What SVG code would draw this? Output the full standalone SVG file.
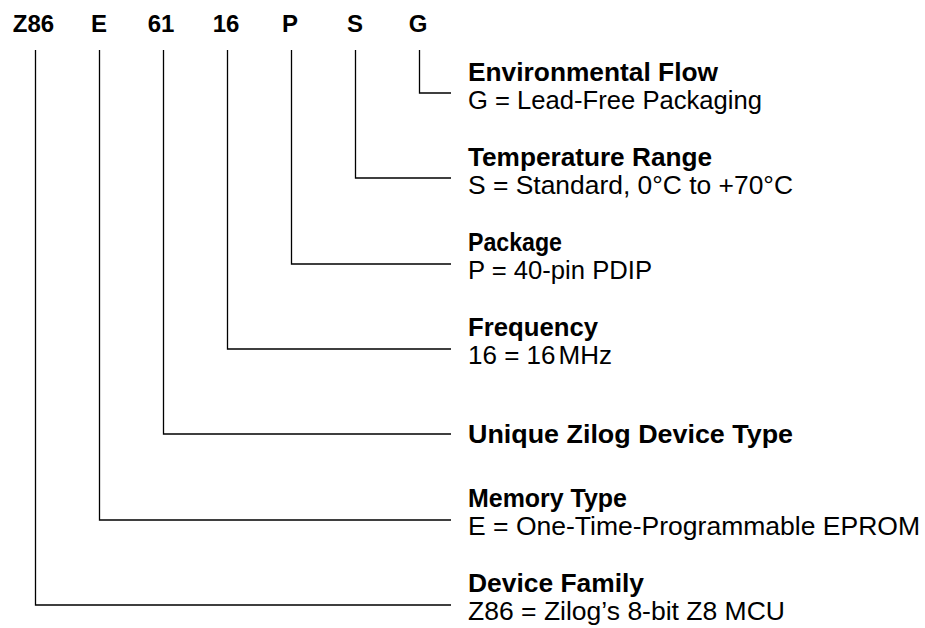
<svg xmlns="http://www.w3.org/2000/svg" width="925" height="628" viewBox="0 0 925 628">
<style>
.hd{font-family:"Liberation Sans",Arial,sans-serif;font-weight:bold;font-size:24px;fill:#000;text-anchor:middle}
.t{font-family:"Liberation Sans",Arial,sans-serif;font-weight:bold;font-size:25px;fill:#000}
.s{font-family:"Liberation Sans",Arial,sans-serif;font-size:25px;fill:#000}
.c{fill:none;stroke:#000;stroke-width:1.3}
</style>
<rect width="925" height="628" fill="#fff"/>
<g id="header">
<text class="hd" x="33.5" y="31.5">Z86</text>
<text class="hd" x="99" y="31.5">E</text>
<text class="hd" x="161" y="31.5">61</text>
<text class="hd" x="226" y="31.5">16</text>
<text class="hd" x="290" y="31.5">P</text>
<text class="hd" x="355" y="31.5">S</text>
<text class="hd" x="418" y="31.5">G</text>
</g>
<g id="connectors">
<polyline class="c" points="419.5,50 419.5,93 451,93"/>
<polyline class="c" points="355.5,50 355.5,178 451,178"/>
<polyline class="c" points="291.5,50 291.5,264 451,264"/>
<polyline class="c" points="227.5,50 227.5,349 451,349"/>
<polyline class="c" points="163.5,50 163.5,434 451,434"/>
<polyline class="c" points="99.5,50 99.5,520 451,520"/>
<polyline class="c" points="35.5,50 35.5,605 451,605"/>
</g>
<g id="env">
<text class="t" x="468" y="81" textLength="250" lengthAdjust="spacingAndGlyphs">Environmental Flow</text>
<text class="s" x="468" y="109" textLength="294" lengthAdjust="spacingAndGlyphs">G = Lead-Free Packaging</text>
</g>
<g id="temp">
<text class="t" x="468" y="166" textLength="244" lengthAdjust="spacingAndGlyphs">Temperature Range</text>
<text class="s" x="468" y="194" textLength="325" lengthAdjust="spacingAndGlyphs">S = Standard, 0°C to +70°C</text>
</g>
<g id="pkg">
<text class="t" x="468" y="251" textLength="94" lengthAdjust="spacingAndGlyphs">Package</text>
<text class="s" x="468" y="279" textLength="184" lengthAdjust="spacingAndGlyphs">P = 40-pin PDIP</text>
</g>
<g id="freq">
<text class="t" x="468" y="336" textLength="130" lengthAdjust="spacingAndGlyphs">Frequency</text>
<text class="s" x="468" y="364" textLength="144" lengthAdjust="spacingAndGlyphs">16 = 16<tspan dx="3">MHz</tspan></text>
</g>
<g id="uniq">
<text class="t" x="468" y="443" textLength="325" lengthAdjust="spacingAndGlyphs">Unique Zilog Device Type</text>
</g>
<g id="mem">
<text class="t" x="468" y="507" textLength="159" lengthAdjust="spacingAndGlyphs">Memory Type</text>
<text class="s" x="468" y="535" textLength="452" lengthAdjust="spacingAndGlyphs">E = One-Time-Programmable EPROM</text>
</g>
<g id="fam">
<text class="t" x="468" y="592" textLength="176" lengthAdjust="spacingAndGlyphs">Device Family</text>
<text class="s" x="468" y="620" textLength="317" lengthAdjust="spacingAndGlyphs">Z86 = Zilog’s 8-bit Z8 MCU</text>
</g>
</svg>
